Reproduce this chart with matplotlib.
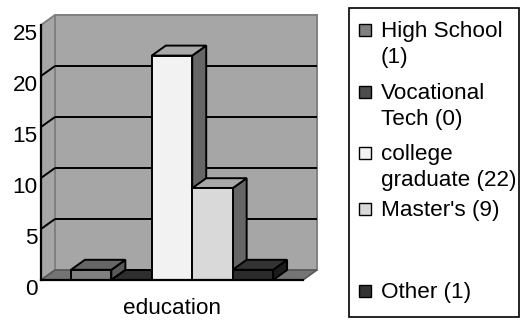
import textwrap
import matplotlib
matplotlib.use("Agg")
import matplotlib.pyplot as plt
from matplotlib.patches import Polygon, Rectangle
from matplotlib.transforms import ScaledTranslation

# ---- data ----
categories = ["education"]
series_names = ["High School", "Vocational Tech", "college graduate", "Master's", "Other"]
series_values = [1, 0, 22, 9, 1]
y_ticks = [0, 5, 10, 15, 20, 25]

# ---- styles ----
front_colors = ["#808080", "#2e2e2e", "#f2f2f2", "#d9d9d9", "#2b2b2b"]
top_colors = ["#666666", "#2e2e2e", "#a8a8a8", "#a8a8a8", "#333333"]
side_colors = ["#595959", "#262626", "#666666", "#666666", "#1c1c1c"]
legend_colors = ["#808080", "#4d4d4d", "#f2f2f2", "#d9d9d9", "#333333"]
wall_color = "#a6a6a6"
floor_color = "#747474"
border_gray = "#808080"

plt.rcParams['font.family'] = ['Liberation Sans', 'DejaVu Sans']
FS = 16.2

W, H, DPI = 522, 320, 100
fig = plt.figure(figsize=(W / DPI, H / DPI), dpi=DPI)
fig.patch.set_facecolor("white")

# front plane in pixels (from top): x 41..303, y 280 (0) .. 25 (25)
ax = fig.add_axes([41 / W, (H - 280) / H, 262 / W, 255 / H])
n = len(series_values)
gap = 0.74
x0, x1 = -0.5 - gap, n - 0.5 + gap
ymax = y_ticks[-1]
ax.set_xlim(x0, x1)
ax.set_ylim(0, ymax)
ax.patch.set_visible(False)
for s in ax.spines.values():
    s.set_visible(False)

ppx = 262 / (x1 - x0)
ppy = 255 / ymax
dx = 14 / ppx
dy = 10 / ppy

def poly(pts, fc, ec="black", lw=1.4, z=1):
    p = Polygon(pts, closed=True, facecolor=fc, edgecolor=ec, linewidth=lw,
                zorder=z, clip_on=False, joinstyle="miter")
    ax.add_patch(p)

# back wall
poly([(x0 + dx, dy), (x1 + dx, dy), (x1 + dx, ymax + dy), (x0 + dx, ymax + dy)],
     wall_color, ec=border_gray, lw=1.4, z=1)
# left side wall
poly([(x0, 0), (x0 + dx, dy), (x0 + dx, ymax + dy), (x0, ymax)],
     wall_color, ec=border_gray, lw=1.4, z=1)
# floor
poly([(x0, 0), (x1, 0), (x1 + dx, dy), (x0 + dx, dy)],
     floor_color, ec="#555555", lw=1.1, z=2)

# gridlines
for t in y_ticks[1:-1]:
    ax.plot([x0 + dx, x1 + dx], [t + dy, t + dy], color="black", lw=1.4,
            zorder=1.5, clip_on=False, solid_capstyle="butt")
    ax.plot([x0, x0 + dx], [t, t + dy], color="black", lw=1.4,
            zorder=1.5, clip_on=False, solid_capstyle="butt")

# bars
for i, v in enumerate(series_values):
    z = 3 + i
    l, r = i - 0.5, i + 0.5
    poly([(r, 0), (r + dx, dy), (r + dx, v + dy), (r, v)], side_colors[i], z=z)
    poly([(l, v), (r, v), (r + dx, v + dy), (l + dx, v + dy)], top_colors[i], z=z + 0.1)
    if v > 0:
        poly([(l, 0), (r, 0), (r, v), (l, v)], front_colors[i], z=z + 0.2)

# front axis and baseline
ax.plot([x0, x0], [0, ymax], color="black", lw=1.6, zorder=20, clip_on=False)
ax.plot([x0, x1], [0, 0], color="black", lw=1.6, zorder=20, clip_on=False)

# ticks
ax.set_yticks(y_ticks)
ax.set_yticklabels([str(t) for t in y_ticks], fontsize=FS)
ax.tick_params(axis="y", length=0, pad=2.2)
off = ScaledTranslation(0, -7 / DPI, fig.dpi_scale_trans)
for lab in ax.get_yticklabels():
    lab.set_transform(lab.get_transform() + off)
ax.set_xticks([(n - 1) / 2])
ax.set_xticklabels(categories, fontsize=FS)
ax.tick_params(axis="x", length=0, pad=13)

# legend (drawn manually)
lx0, ly0, lx1, ly1 = 349, 8, 519, 317
fig.patches.append(Rectangle((lx0 / W, 1 - ly1 / H), (lx1 - lx0) / W, (ly1 - ly0) / H,
                             transform=fig.transFigure, facecolor="white",
                             edgecolor="black", linewidth=1.2, zorder=0))
entry_baselines = [37, 99, 160, 216, 298]
line_step = 26
for name, val, col, yb in zip(series_names, series_values, legend_colors, entry_baselines):
    lines = textwrap.wrap(f"{name} ({val})", width=13)
    fig.patches.append(Rectangle((359 / W, 1 - (yb - 1) / H), 12 / W, 12 / H,
                                 transform=fig.transFigure, facecolor=col,
                                 edgecolor="black", linewidth=1.0, zorder=2))
    for k, line in enumerate(lines):
        fig.text(381 / W, 1 - (yb + k * line_step) / H, line, fontsize=FS,
                 va="baseline", ha="left")

fig.savefig("out.png", dpi=DPI)
